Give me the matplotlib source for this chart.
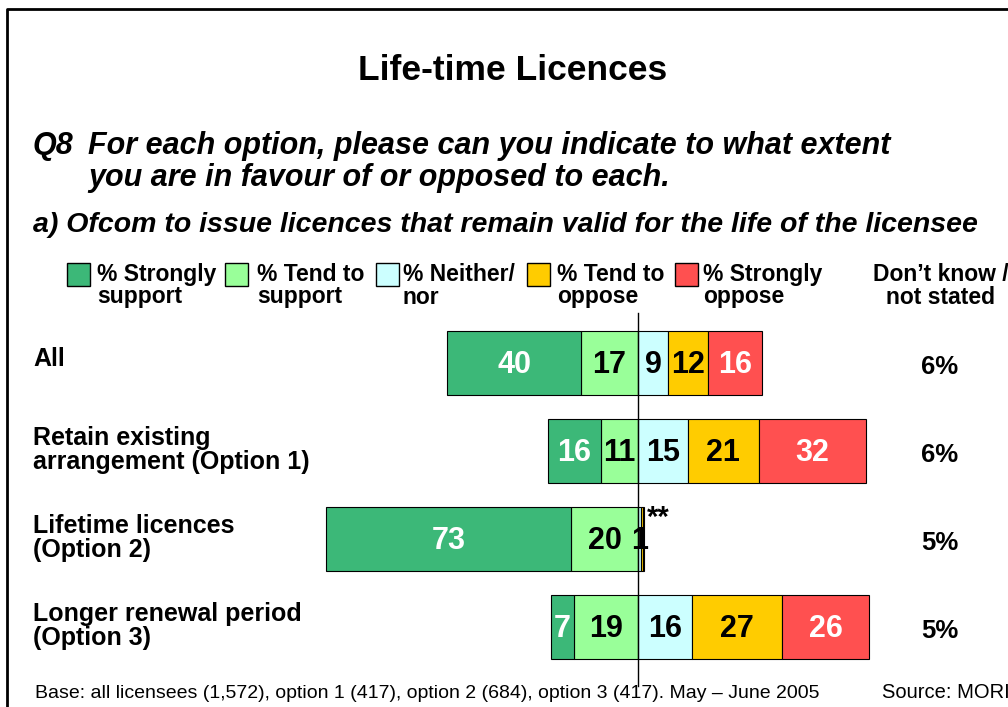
import matplotlib
matplotlib.use("Agg")
import matplotlib.pyplot as plt
from matplotlib.patches import Rectangle
import numpy as np

plt.rcParams['font.family'] = ['Liberation Sans', 'DejaVu Sans']

rows = [["All"], ["Retain existing", "arrangement (Option 1)"], ["Lifetime licences", "(Option 2)"],
        ["Longer renewal period", "(Option 3)"]]
strongly_support = [40, 16, 73, 7]
tend_support = [17, 11, 20, 19]
neither = [9, 15, 1, 16]
tend_oppose = [12, 21, 0.4, 27]
strongly_oppose = [16, 32, 0.4, 26]
dont_know = ["6%", "6%", "5%", "5%"]
legend_line1 = ["% Strongly", "% Tend to", "% Neither/", "% Tend to", "% Strongly"]
legend_line2 = ["support", "support", "nor", "oppose", "oppose"]
colors = ["#3CB878", "#99FF99", "#CCFFFF", "#FFCC00", "#FF5050"]
text_colors = ["white", "black", "black", "black", "white"]

W, H = 1008, 707
fig = plt.figure(figsize=(W / 100, H / 100), dpi=100)

def fx(px):
    return px / W

def fy(py):
    return 1 - py / H

# bars axis spanning whole figure; center at px 638, 3.35 px per %
PPX = 3.35
ax = fig.add_axes([0, 0, 1, 1])
ax.set_xlim(-638 / PPX, (W - 638) / PPX)
ax.set_ylim((H - 363) / 88, -363 / 88)
ax.axis('off')

def dx(px):
    return (px - 638) / PPX

n = len(rows)
y = np.arange(n)
h = 0.72
right_vals = [neither, tend_oppose, strongly_oppose]

ts = np.array(tend_support, float)
ss = np.array(strongly_support, float)
ax.barh(y, -ts, left=0, height=h, color=colors[1], edgecolor='black', linewidth=0.8)
ax.barh(y, -ss, left=-ts, height=h, color=colors[0], edgecolor='black', linewidth=0.8)
start = np.zeros(n)
for vals, c in zip(right_vals, colors[2:]):
    v = np.array(vals, float)
    ax.barh(y, v, left=start, height=h, color=c, edgecolor='black', linewidth=0.8)
    start = start + v
ends = start

# value labels
for i in range(n):
    segs = [(-ts[i] - ss[i] / 2, ss[i], 0), (-ts[i] / 2, ts[i], 1)]
    s = 0
    for k, vals in enumerate(right_vals):
        segs.append((s + vals[i] / 2, vals[i], k + 2))
        s += vals[i]
    for cx, v, k in segs:
        if v < 0.9:
            continue
        ax.text(cx, i + 0.02, f"{int(round(v))}", ha='center', va='center', fontsize=22,
                fontweight='bold', color=text_colors[k])

# "**" marks for values below 0.5%
ax.text(ends[2] + 0.9, 2 - 0.24, "**", ha='left', va='center', fontsize=21, fontweight='bold')

# centre line
ax.plot([0, 0], [-0.57, 3.67], color='black', linewidth=1)

# title and questions
fig.text(fx(513), fy(70), "Life-time Licences", ha='center', va='center', fontsize=25.5, fontweight='bold')
fig.text(fx(33), fy(146), "Q8", ha='left', va='center', fontsize=22, fontweight='bold', style='italic')
fig.text(fx(88), fy(146), "For each option, please can you indicate to what extent",
         ha='left', va='center', fontsize=22, fontweight='bold', style='italic')
fig.text(fx(88), fy(178), "you are in favour of or opposed to each.",
         ha='left', va='center', fontsize=22, fontweight='bold', style='italic')
fig.text(fx(33), fy(225), "a) Ofcom to issue licences that remain valid for the life of the licensee",
         ha='left', va='center', fontsize=20.5, fontweight='bold', style='italic')

# legend
sq_x = [67, 225, 376, 527, 675]
tx_x = [97, 257, 403, 557, 703]
for sx, tx, t1, t2, c in zip(sq_x, tx_x, legend_line1, legend_line2, colors):
    fig.patches.append(Rectangle((fx(sx), fy(286)), 23 / W, 23 / H, transform=fig.transFigure,
                                 facecolor=c, edgecolor='black', linewidth=1))
    fig.text(fx(tx), fy(274), t1, ha='left', va='center', fontsize=16.5, fontweight='bold')
    fig.text(fx(tx), fy(297), t2, ha='left', va='center', fontsize=16.5, fontweight='bold')
fig.text(fx(873), fy(274), "Don\u2019t know /", ha='left', va='center', fontsize=16.5, fontweight='bold')
fig.text(fx(941), fy(297), "not stated", ha='center', va='center', fontsize=16.5, fontweight='bold')

# row labels and don't know
for i, (lab, dk) in enumerate(zip(rows, dont_know)):
    if len(lab) == 1:
        ax.text(dx(33), i - 0.04, lab[0], ha='left', va='center', fontsize=18, fontweight='bold')
    else:
        ax.text(dx(33), i - 0.15, lab[0], ha='left', va='center', fontsize=18, fontweight='bold')
        ax.text(dx(33), i + 0.12, lab[1], ha='left', va='center', fontsize=18, fontweight='bold')
    ax.text(dx(940), i + 0.05, dk, ha='center', va='center', fontsize=18.5, fontweight='bold')

# footer
fig.text(fx(35), fy(693), "Base: all licensees (1,572), option 1 (417), option 2 (684), option 3 (417). May \u2013 June 2005",
         ha='left', va='center', fontsize=14)
fig.text(fx(882), fy(692), "Source: MORI", ha='left', va='center', fontsize=14.5)

# border
fig.lines.append(plt.Line2D([fx(7), fx(7), fx(1010)], [fy(712), fy(9), fy(9)], transform=fig.transFigure,
                            color='black', linewidth=2))

fig.savefig("out.png", dpi=100)
